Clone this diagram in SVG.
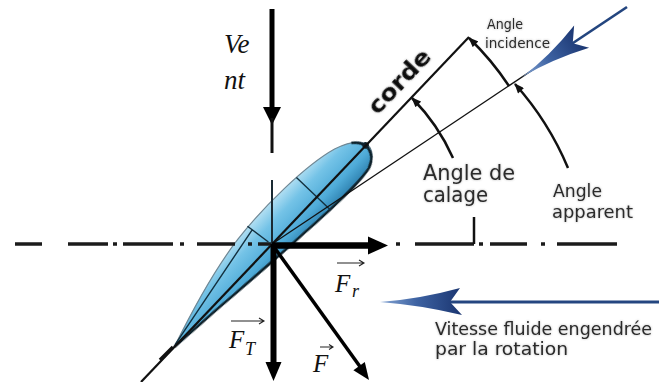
<svg xmlns="http://www.w3.org/2000/svg" width="659" height="382" viewBox="0 0 659 382">
  <style>
    .lbl { font-family: "DejaVu Sans Condensed", "DejaVu Sans", sans-serif; fill: #2a2a2a; filter: url(#soft); }
    .math { font-family: "Liberation Serif", "DejaVu Serif", serif; font-style: italic; fill: #111; }
    .arc { fill: none; stroke: #111; stroke-width: 2.5; }
    .axis { fill: none; stroke: #1b1b1b; stroke-width: 3.4; }
    .vec { fill: none; stroke: #222; stroke-width: 1.1; }
  </style>
  <defs>
    <linearGradient id="bladeFill" gradientUnits="userSpaceOnUse" x1="0" y1="-30" x2="0" y2="21">
      <stop offset="0" stop-color="#b4e0f3"/>
      <stop offset="0.3" stop-color="#74c3e7"/>
      <stop offset="0.7" stop-color="#4fabd8"/>
      <stop offset="1" stop-color="#2c7fae"/>
    </linearGradient>
    <linearGradient id="blueHead" x1="0" y1="0" x2="1" y2="0">
      <stop offset="0" stop-color="#86a6d4"/>
      <stop offset="0.45" stop-color="#3d62a2"/>
      <stop offset="1" stop-color="#1a3570"/>
    </linearGradient>
    <marker id="tip" viewBox="0 0 10 8" refX="9" refY="4" markerWidth="11" markerHeight="8" markerUnits="userSpaceOnUse" orient="auto">
      <path d="M0,0 L10,4 L0,8 Z" fill="#111"/>
    </marker>
    <filter id="soft" x="-10%" y="-30%" width="120%" height="160%">
      <feGaussianBlur in="SourceAlpha" stdDeviation="1" result="b"/>
      <feFlood flood-color="#555" flood-opacity="0.45"/>
      <feComposite in2="b" operator="in" result="s"/>
      <feMerge><feMergeNode in="s"/><feMergeNode in="SourceGraphic"/></feMerge>
    </filter>
    <filter id="edgeBlur"><feGaussianBlur stdDeviation="0.7"/></filter>
  </defs>

  <rect width="659" height="382" fill="#fff"/>

  <!-- blade section, drawn along its chord -->
  <g id="blade" transform="translate(272,244) rotate(-46.5)">
    <path d="M-142,0 C-100,-13 -60,-24 -20,-28 C20,-32 80,-30 112,-20 C132,-13 142,-2 136,8 C131,16 122,19 110,20 C80,21 50,17 20,15 C-20,12 -80,5 -142,0 Z"
          fill="url(#bladeFill)" stroke="#6f8794" stroke-width="1.2"/>
    <path d="M128,-12 C140,-2 138,12 122,18 C100,22 60,18 20,15 C-20,12 -80,5 -142,0"
          fill="none" stroke="#10212c" stroke-width="2.6" filter="url(#edgeBlur)"/>
    <path d="M65,-28 L65,19 M-4,-30 L-1,-4 M-4,-24 L-140,-1" fill="none" stroke="#13303f" stroke-width="1.4"/>
    <circle cx="136" cy="0" r="3.2" fill="#10212c"/>
  </g>

  <g id="connectors">
    <!-- chord line through the blade -->
    <path d="M141,382 L469,37" stroke="#111" stroke-width="2.2" fill="none"/>
    <path d="M173,347 L160,360" stroke="#111" stroke-width="3.5" fill="none"/>
    <!-- apparent wind direction -->
    <path d="M272,244 L540,65" stroke="#111" stroke-width="1.3" fill="none"/>
    <!-- rotation axis (dash-dot) -->
    <path class="axis" d="M15,244H42 M68,244H108 M113,244H117 M123,244H173 M180,244H184 M197,244H235 M248,244H252 M258,244H272 M396,244H400 M415,244H474 M479,244H483 M490,244H527 M541,244H545 M557,244H617"/>
    <!-- vertical reference inside the blade -->
    <path d="M272,180 V244" stroke="#1a2a33" stroke-width="2" fill="none"/>
    <!-- angle arcs -->
    <path class="arc" d="M453,158 A202,202 0 0 0 412,98" marker-end="url(#tip)"/>
    <path class="arc" d="M474,217 V244"/>
    <path class="arc" d="M509,86 A285,285 0 0 0 469,38" marker-end="url(#tip)"/>
    <path class="arc" d="M568,168 A300,300 0 0 0 515,84" marker-end="url(#tip)"/>
  </g>

  <!-- wind arrow -->
  <g id="wind">
    <path d="M272,9 V110" stroke="#000" stroke-width="5" fill="none"/>
    <polygon points="263,107 281,107 272,125" fill="#000"/>
    <path d="M272,118 V153" stroke="#111" stroke-width="3" fill="none"/>
    <text class="math" x="224" y="53" font-size="27">Ve</text>
    <text class="math" x="224" y="89" font-size="27">nt</text>
  </g>

  <!-- force Fr -->
  <g id="force-r">
    <path d="M272,245.5 H372" stroke="#000" stroke-width="6.5" fill="none"/>
    <polygon points="368,236.5 388,245.5 368,254.5" fill="#000"/>
    <text class="math" x="335" y="292" font-size="25">F</text>
    <text class="math" x="352" y="297" font-size="18">r</text>
    <path class="vec" d="M337,263 H364 M359,260 L364,263 L359,266"/>
  </g>

  <!-- force FT -->
  <g id="force-t">
    <path d="M273.5,244 V366" stroke="#000" stroke-width="6" fill="none"/>
    <polygon points="265.5,362 281.5,362 273.5,381" fill="#000"/>
    <text class="math" x="229" y="348" font-size="25">F</text>
    <text class="math" x="245" y="355" font-size="18">T</text>
    <path class="vec" d="M231,321 H264 M259,318 L264,321 L259,324"/>
  </g>

  <!-- resultant force F -->
  <g id="force">
    <path d="M274,247 L361,368" stroke="#000" stroke-width="3.5" fill="none"/>
    <polygon points="369,380 364.8,362.1 353.4,370.3" fill="#000"/>
    <text class="math" x="313" y="372" font-size="25">F</text>
    <path class="vec" d="M320,347 H333 M329,344.5 L333,347 L329,349.5"/>
  </g>

  <!-- apparent wind arrow -->
  <g id="apparent-wind">
    <path d="M555,55 L627,7" stroke="#23457f" stroke-width="2.6" fill="none"/>
    <path transform="translate(522,77) rotate(-33.7)" d="M0,0 Q35,-2 72,-14 L61,0 L72,13 Q35,2 0,0 Z" fill="url(#blueHead)"/>
  </g>

  <!-- rotation speed arrow -->
  <g id="rotation-speed">
    <path d="M450,302 H659" stroke="#244680" stroke-width="3" fill="none"/>
    <path transform="translate(380,302)" d="M0,0 Q40,-3 80,-14 L70,0 L82,13 Q40,3 0,0 Z" fill="url(#blueHead)"/>
    <text class="lbl" x="435" y="335" font-size="18" textLength="217" lengthAdjust="spacingAndGlyphs">Vitesse fluide engendrée</text>
    <text class="lbl" x="435" y="355" font-size="18" textLength="133" lengthAdjust="spacingAndGlyphs">par la rotation</text>
  </g>

  <g id="labels">
    <text class="lbl" transform="translate(400,82) rotate(-46.5)" y="7" text-anchor="middle" font-family="DejaVu Sans" font-weight="bold" font-size="23" textLength="80" lengthAdjust="spacingAndGlyphs" style="fill:#111">corde</text>
    <text class="lbl" x="487" y="29" font-size="14" textLength="36" lengthAdjust="spacingAndGlyphs">Angle</text>
    <text class="lbl" x="485" y="48" font-size="14" textLength="65" lengthAdjust="spacingAndGlyphs">incidence</text>
    <text class="lbl" x="423" y="180" font-size="21" textLength="92" lengthAdjust="spacingAndGlyphs">Angle de</text>
    <text class="lbl" x="423" y="202" font-size="21" textLength="65" lengthAdjust="spacingAndGlyphs">calage</text>
    <text class="lbl" x="553" y="197" font-size="18.5" textLength="49" lengthAdjust="spacingAndGlyphs">Angle</text>
    <text class="lbl" x="552" y="218" font-size="18.5" textLength="81" lengthAdjust="spacingAndGlyphs">apparent</text>
  </g>
</svg>
